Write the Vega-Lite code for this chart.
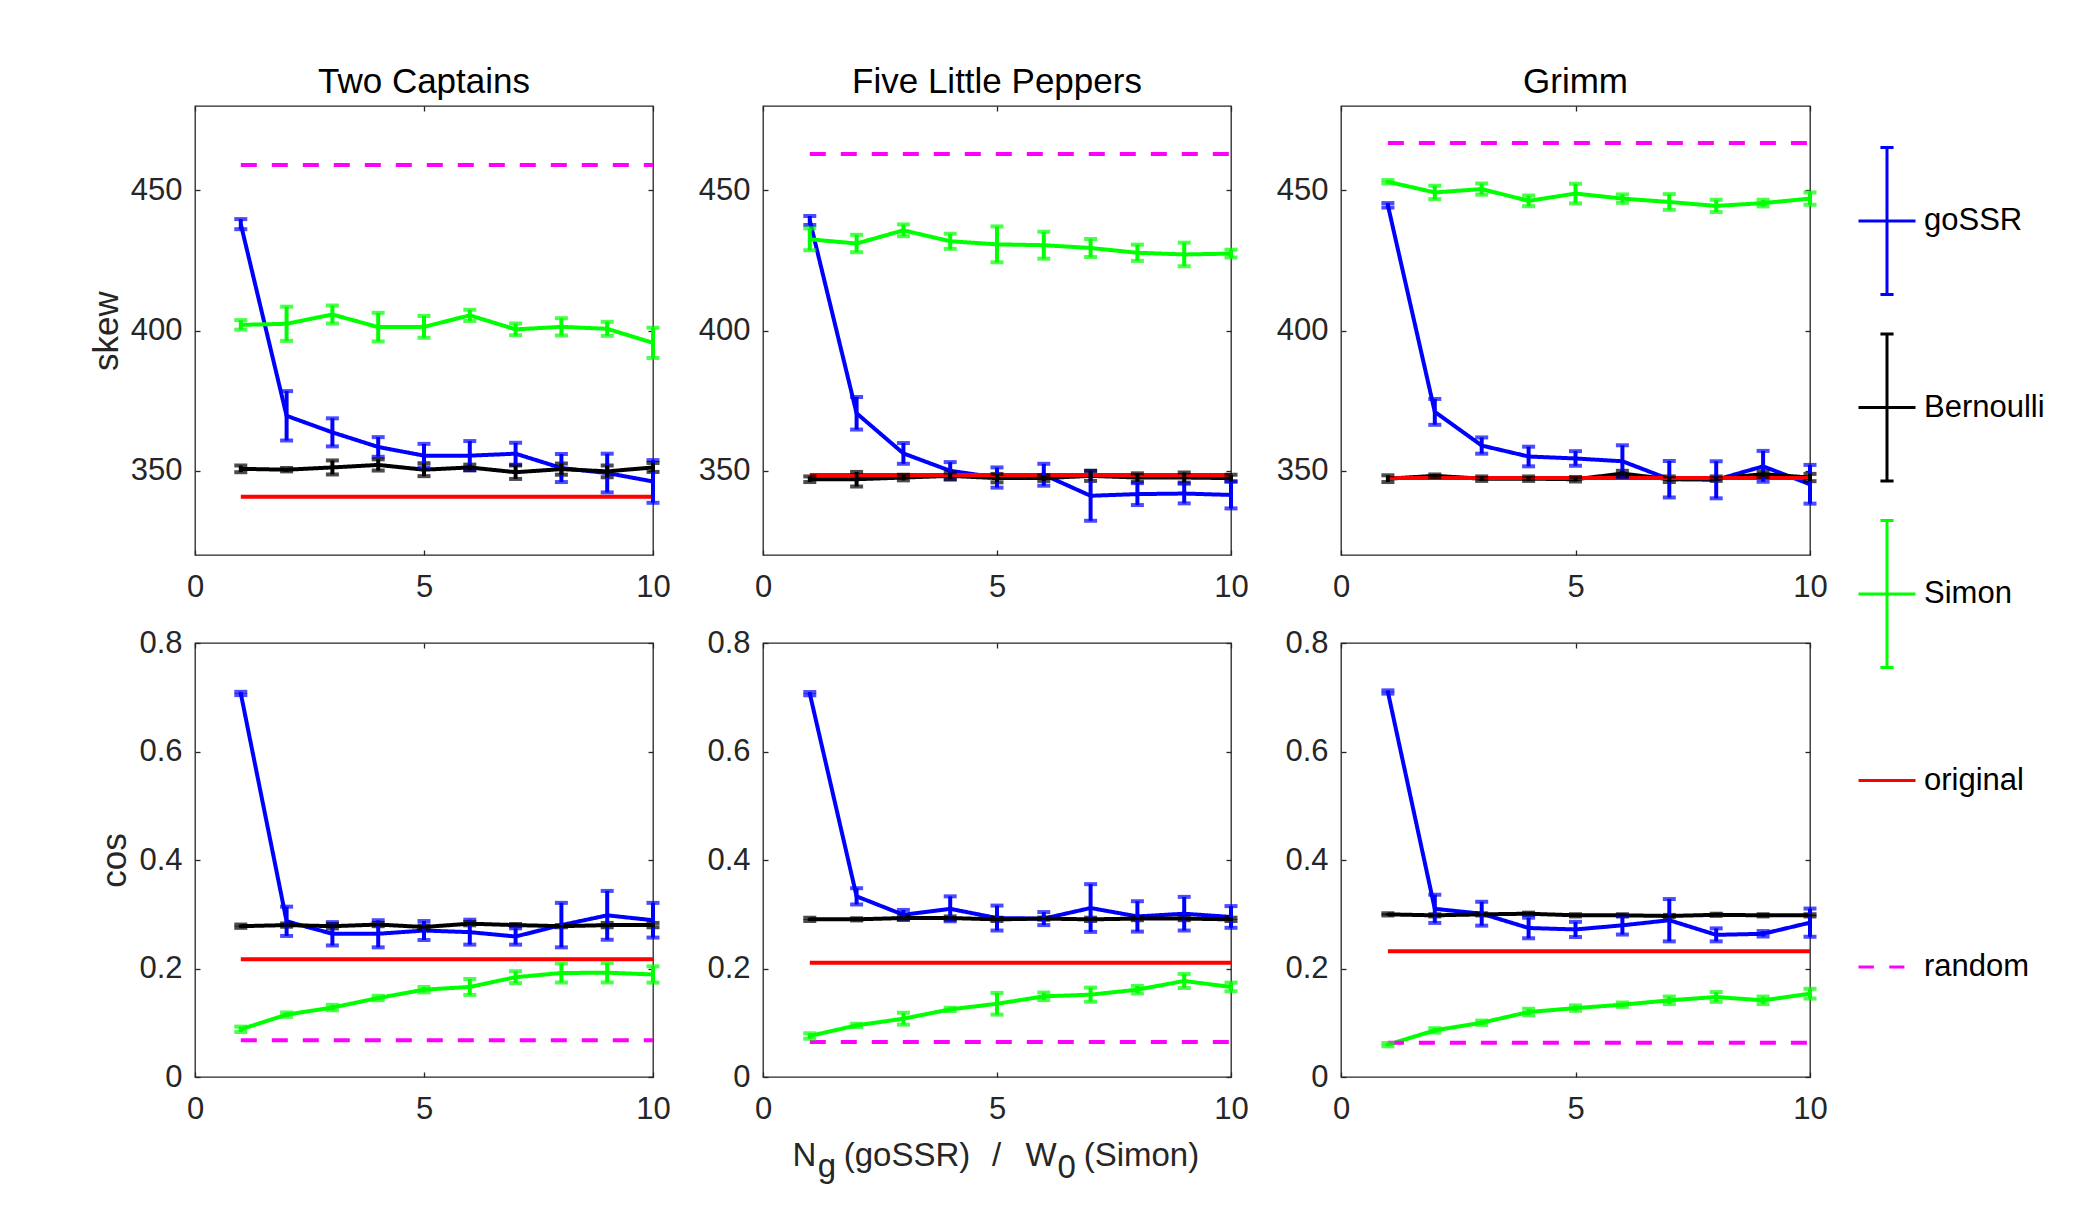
{
"$schema": "https://vega.github.io/schema/vega-lite/v6.json",
"autosize": {"type": "pad"},
"padding": {"left": 88, "top": 64, "right": 0, "bottom": 0},
"background": "white",
"config": {
  "font": "Liberation Sans",
  "view": {"stroke": "#262626", "strokeWidth": 1.3},
  "axis": {"grid": false, "domain": false, "ticks": true, "tickSize": -5, "tickColor": "#262626", "tickWidth": 1.3,
           "labelFont": "Liberation Sans", "labelFontSize": 31, "labelColor": "#262626", "labelFlush": false, "labelOverlap": false,
           "titleFont": "Liberation Sans", "titleFontSize": 35, "titleFontWeight": "normal", "titleColor": "#262626", "titlePadding": 6},
  "axisX": {"labelPadding": 22},
  "axisY": {"labelPadding": 18},
  "title": {"font": "Liberation Sans", "fontSize": 35, "fontWeight": "normal", "color": "#000000", "offset": 5, "baseline": "alphabetic", "frame": "group", "anchor": "middle"}
},
"datasets": {
"d": [
{"b":"Two Captains","m":"skew","s":"goSSR","n":1,"v":437.9,"e":1.8},
{"b":"Two Captains","m":"skew","s":"goSSR","n":2,"v":369.6,"e":8.8},
{"b":"Two Captains","m":"skew","s":"goSSR","n":3,"v":363.7,"e":5.0},
{"b":"Two Captains","m":"skew","s":"goSSR","n":4,"v":358.5,"e":3.5},
{"b":"Two Captains","m":"skew","s":"goSSR","n":5,"v":355.4,"e":4.2},
{"b":"Two Captains","m":"skew","s":"goSSR","n":6,"v":355.4,"e":5.2},
{"b":"Two Captains","m":"skew","s":"goSSR","n":7,"v":356.1,"e":3.9},
{"b":"Two Captains","m":"skew","s":"goSSR","n":8,"v":351.0,"e":5.0},
{"b":"Two Captains","m":"skew","s":"goSSR","n":9,"v":349.2,"e":6.9},
{"b":"Two Captains","m":"skew","s":"goSSR","n":10,"v":346.2,"e":7.6},
{"b":"Two Captains","m":"skew","s":"Bernoulli","n":1,"v":350.7,"e":1.2},
{"b":"Two Captains","m":"skew","s":"Bernoulli","n":2,"v":350.4,"e":0.6},
{"b":"Two Captains","m":"skew","s":"Bernoulli","n":3,"v":351.2,"e":2.5},
{"b":"Two Captains","m":"skew","s":"Bernoulli","n":4,"v":352.1,"e":2.0},
{"b":"Two Captains","m":"skew","s":"Bernoulli","n":5,"v":350.4,"e":2.3},
{"b":"Two Captains","m":"skew","s":"Bernoulli","n":6,"v":351.2,"e":1.0},
{"b":"Two Captains","m":"skew","s":"Bernoulli","n":7,"v":349.5,"e":2.4},
{"b":"Two Captains","m":"skew","s":"Bernoulli","n":8,"v":350.6,"e":2.0},
{"b":"Two Captains","m":"skew","s":"Bernoulli","n":9,"v":349.8,"e":2.1},
{"b":"Two Captains","m":"skew","s":"Bernoulli","n":10,"v":351.2,"e":1.6},
{"b":"Two Captains","m":"skew","s":"Simon","n":1,"v":402.0,"e":1.7},
{"b":"Two Captains","m":"skew","s":"Simon","n":2,"v":402.4,"e":6.1},
{"b":"Two Captains","m":"skew","s":"Simon","n":3,"v":405.7,"e":3.2},
{"b":"Two Captains","m":"skew","s":"Simon","n":4,"v":401.2,"e":5.1},
{"b":"Two Captains","m":"skew","s":"Simon","n":5,"v":401.3,"e":3.9},
{"b":"Two Captains","m":"skew","s":"Simon","n":6,"v":405.4,"e":2.0},
{"b":"Two Captains","m":"skew","s":"Simon","n":7,"v":400.4,"e":2.1},
{"b":"Two Captains","m":"skew","s":"Simon","n":8,"v":401.3,"e":3.1},
{"b":"Two Captains","m":"skew","s":"Simon","n":9,"v":400.6,"e":2.5},
{"b":"Two Captains","m":"skew","s":"Simon","n":10,"v":395.6,"e":5.4},
{"b":"Two Captains","m":"skew","s":"original","n":1,"v":340.8},
{"b":"Two Captains","m":"skew","s":"original","n":10,"v":340.8},
{"b":"Two Captains","m":"skew","s":"random","n":1,"v":459.0},
{"b":"Two Captains","m":"skew","s":"random","n":10,"v":459.0},
{"b":"Five Little Peppers","m":"skew","s":"goSSR","n":1,"v":439.2,"e":1.6},
{"b":"Five Little Peppers","m":"skew","s":"goSSR","n":2,"v":370.5,"e":5.8},
{"b":"Five Little Peppers","m":"skew","s":"goSSR","n":3,"v":356.2,"e":3.7},
{"b":"Five Little Peppers","m":"skew","s":"goSSR","n":4,"v":350.0,"e":3.1},
{"b":"Five Little Peppers","m":"skew","s":"goSSR","n":5,"v":347.6,"e":3.6},
{"b":"Five Little Peppers","m":"skew","s":"goSSR","n":6,"v":348.6,"e":3.9},
{"b":"Five Little Peppers","m":"skew","s":"goSSR","n":7,"v":341.1,"e":8.9},
{"b":"Five Little Peppers","m":"skew","s":"goSSR","n":8,"v":341.7,"e":3.9},
{"b":"Five Little Peppers","m":"skew","s":"goSSR","n":9,"v":341.9,"e":3.5},
{"b":"Five Little Peppers","m":"skew","s":"goSSR","n":10,"v":341.4,"e":4.8},
{"b":"Five Little Peppers","m":"skew","s":"Bernoulli","n":1,"v":347.0,"e":1.0},
{"b":"Five Little Peppers","m":"skew","s":"Bernoulli","n":2,"v":347.0,"e":2.6},
{"b":"Five Little Peppers","m":"skew","s":"Bernoulli","n":3,"v":347.6,"e":1.0},
{"b":"Five Little Peppers","m":"skew","s":"Bernoulli","n":4,"v":348.2,"e":1.2},
{"b":"Five Little Peppers","m":"skew","s":"Bernoulli","n":5,"v":347.4,"e":1.5},
{"b":"Five Little Peppers","m":"skew","s":"Bernoulli","n":6,"v":347.4,"e":1.0},
{"b":"Five Little Peppers","m":"skew","s":"Bernoulli","n":7,"v":348.2,"e":1.8},
{"b":"Five Little Peppers","m":"skew","s":"Bernoulli","n":8,"v":347.6,"e":1.5},
{"b":"Five Little Peppers","m":"skew","s":"Bernoulli","n":9,"v":347.6,"e":1.8},
{"b":"Five Little Peppers","m":"skew","s":"Bernoulli","n":10,"v":347.4,"e":1.2},
{"b":"Five Little Peppers","m":"skew","s":"Simon","n":1,"v":432.5,"e":3.9},
{"b":"Five Little Peppers","m":"skew","s":"Simon","n":2,"v":431.0,"e":3.1},
{"b":"Five Little Peppers","m":"skew","s":"Simon","n":3,"v":435.7,"e":2.1},
{"b":"Five Little Peppers","m":"skew","s":"Simon","n":4,"v":431.8,"e":2.7},
{"b":"Five Little Peppers","m":"skew","s":"Simon","n":5,"v":430.7,"e":6.4},
{"b":"Five Little Peppers","m":"skew","s":"Simon","n":6,"v":430.4,"e":4.8},
{"b":"Five Little Peppers","m":"skew","s":"Simon","n":7,"v":429.4,"e":3.2},
{"b":"Five Little Peppers","m":"skew","s":"Simon","n":8,"v":427.7,"e":2.9},
{"b":"Five Little Peppers","m":"skew","s":"Simon","n":9,"v":427.1,"e":4.2},
{"b":"Five Little Peppers","m":"skew","s":"Simon","n":10,"v":427.4,"e":1.4},
{"b":"Five Little Peppers","m":"skew","s":"original","n":1,"v":348.5},
{"b":"Five Little Peppers","m":"skew","s":"original","n":10,"v":348.5},
{"b":"Five Little Peppers","m":"skew","s":"random","n":1,"v":462.9},
{"b":"Five Little Peppers","m":"skew","s":"random","n":10,"v":462.9},
{"b":"Grimm","m":"skew","s":"goSSR","n":1,"v":444.6,"e":0.8},
{"b":"Grimm","m":"skew","s":"goSSR","n":2,"v":371.0,"e":4.6},
{"b":"Grimm","m":"skew","s":"goSSR","n":3,"v":359.0,"e":2.9},
{"b":"Grimm","m":"skew","s":"goSSR","n":4,"v":355.1,"e":3.5},
{"b":"Grimm","m":"skew","s":"goSSR","n":5,"v":354.4,"e":2.6},
{"b":"Grimm","m":"skew","s":"goSSR","n":6,"v":353.4,"e":5.7},
{"b":"Grimm","m":"skew","s":"goSSR","n":7,"v":347.0,"e":6.5},
{"b":"Grimm","m":"skew","s":"goSSR","n":8,"v":346.8,"e":6.6},
{"b":"Grimm","m":"skew","s":"goSSR","n":9,"v":351.6,"e":5.5},
{"b":"Grimm","m":"skew","s":"goSSR","n":10,"v":345.2,"e":6.9},
{"b":"Grimm","m":"skew","s":"Bernoulli","n":1,"v":347.2,"e":1.2},
{"b":"Grimm","m":"skew","s":"Bernoulli","n":2,"v":348.2,"e":0.5},
{"b":"Grimm","m":"skew","s":"Bernoulli","n":3,"v":347.2,"e":0.8},
{"b":"Grimm","m":"skew","s":"Bernoulli","n":4,"v":347.2,"e":0.8},
{"b":"Grimm","m":"skew","s":"Bernoulli","n":5,"v":347.0,"e":0.8},
{"b":"Grimm","m":"skew","s":"Bernoulli","n":6,"v":349.0,"e":1.0},
{"b":"Grimm","m":"skew","s":"Bernoulli","n":7,"v":347.0,"e":1.0},
{"b":"Grimm","m":"skew","s":"Bernoulli","n":8,"v":347.2,"e":0.8},
{"b":"Grimm","m":"skew","s":"Bernoulli","n":9,"v":348.8,"e":1.0},
{"b":"Grimm","m":"skew","s":"Bernoulli","n":10,"v":347.6,"e":1.3},
{"b":"Grimm","m":"skew","s":"Simon","n":1,"v":453.0,"e":0.6},
{"b":"Grimm","m":"skew","s":"Simon","n":2,"v":449.2,"e":2.4},
{"b":"Grimm","m":"skew","s":"Simon","n":3,"v":450.4,"e":2.0},
{"b":"Grimm","m":"skew","s":"Simon","n":4,"v":446.2,"e":1.9},
{"b":"Grimm","m":"skew","s":"Simon","n":5,"v":448.8,"e":3.5},
{"b":"Grimm","m":"skew","s":"Simon","n":6,"v":447.0,"e":1.5},
{"b":"Grimm","m":"skew","s":"Simon","n":7,"v":445.8,"e":2.8},
{"b":"Grimm","m":"skew","s":"Simon","n":8,"v":444.4,"e":2.2},
{"b":"Grimm","m":"skew","s":"Simon","n":9,"v":445.4,"e":1.2},
{"b":"Grimm","m":"skew","s":"Simon","n":10,"v":447.0,"e":2.2},
{"b":"Grimm","m":"skew","s":"original","n":1,"v":347.4},
{"b":"Grimm","m":"skew","s":"original","n":10,"v":347.4},
{"b":"Grimm","m":"skew","s":"random","n":1,"v":466.8},
{"b":"Grimm","m":"skew","s":"random","n":10,"v":466.8},
{"b":"Two Captains","m":"cos","s":"goSSR","n":1,"v":0.707,"e":0.003},
{"b":"Two Captains","m":"cos","s":"goSSR","n":2,"v":0.287,"e":0.027},
{"b":"Two Captains","m":"cos","s":"goSSR","n":3,"v":0.264,"e":0.0215},
{"b":"Two Captains","m":"cos","s":"goSSR","n":4,"v":0.264,"e":0.025},
{"b":"Two Captains","m":"cos","s":"goSSR","n":5,"v":0.270,"e":0.0175},
{"b":"Two Captains","m":"cos","s":"goSSR","n":6,"v":0.267,"e":0.023},
{"b":"Two Captains","m":"cos","s":"goSSR","n":7,"v":0.259,"e":0.015},
{"b":"Two Captains","m":"cos","s":"goSSR","n":8,"v":0.280,"e":0.041},
{"b":"Two Captains","m":"cos","s":"goSSR","n":9,"v":0.298,"e":0.045},
{"b":"Two Captains","m":"cos","s":"goSSR","n":10,"v":0.289,"e":0.032},
{"b":"Two Captains","m":"cos","s":"Bernoulli","n":1,"v":0.278,"e":0.003},
{"b":"Two Captains","m":"cos","s":"Bernoulli","n":2,"v":0.280,"e":0.003},
{"b":"Two Captains","m":"cos","s":"Bernoulli","n":3,"v":0.278,"e":0.004},
{"b":"Two Captains","m":"cos","s":"Bernoulli","n":4,"v":0.281,"e":0.003},
{"b":"Two Captains","m":"cos","s":"Bernoulli","n":5,"v":0.2765,"e":0.003},
{"b":"Two Captains","m":"cos","s":"Bernoulli","n":6,"v":0.2826,"e":0.003},
{"b":"Two Captains","m":"cos","s":"Bernoulli","n":7,"v":0.280,"e":0.002},
{"b":"Two Captains","m":"cos","s":"Bernoulli","n":8,"v":0.278,"e":0.002},
{"b":"Two Captains","m":"cos","s":"Bernoulli","n":9,"v":0.280,"e":0.004},
{"b":"Two Captains","m":"cos","s":"Bernoulli","n":10,"v":0.280,"e":0.004},
{"b":"Two Captains","m":"cos","s":"Simon","n":1,"v":0.0879,"e":0.005},
{"b":"Two Captains","m":"cos","s":"Simon","n":2,"v":0.115,"e":0.004},
{"b":"Two Captains","m":"cos","s":"Simon","n":3,"v":0.128,"e":0.005},
{"b":"Two Captains","m":"cos","s":"Simon","n":4,"v":0.1456,"e":0.004},
{"b":"Two Captains","m":"cos","s":"Simon","n":5,"v":0.161,"e":0.005},
{"b":"Two Captains","m":"cos","s":"Simon","n":6,"v":0.166,"e":0.0147},
{"b":"Two Captains","m":"cos","s":"Simon","n":7,"v":0.184,"e":0.011},
{"b":"Two Captains","m":"cos","s":"Simon","n":8,"v":0.1917,"e":0.0175},
{"b":"Two Captains","m":"cos","s":"Simon","n":9,"v":0.1923,"e":0.018},
{"b":"Two Captains","m":"cos","s":"Simon","n":10,"v":0.189,"e":0.015},
{"b":"Two Captains","m":"cos","s":"original","n":1,"v":0.217},
{"b":"Two Captains","m":"cos","s":"original","n":10,"v":0.217},
{"b":"Two Captains","m":"cos","s":"random","n":1,"v":0.0676},
{"b":"Two Captains","m":"cos","s":"random","n":10,"v":0.0676},
{"b":"Five Little Peppers","m":"cos","s":"goSSR","n":1,"v":0.7066,"e":0.003},
{"b":"Five Little Peppers","m":"cos","s":"goSSR","n":2,"v":0.333,"e":0.015},
{"b":"Five Little Peppers","m":"cos","s":"goSSR","n":3,"v":0.299,"e":0.009},
{"b":"Five Little Peppers","m":"cos","s":"goSSR","n":4,"v":0.310,"e":0.023},
{"b":"Five Little Peppers","m":"cos","s":"goSSR","n":5,"v":0.293,"e":0.023},
{"b":"Five Little Peppers","m":"cos","s":"goSSR","n":6,"v":0.292,"e":0.012},
{"b":"Five Little Peppers","m":"cos","s":"goSSR","n":7,"v":0.3115,"e":0.044},
{"b":"Five Little Peppers","m":"cos","s":"goSSR","n":8,"v":0.296,"e":0.028},
{"b":"Five Little Peppers","m":"cos","s":"goSSR","n":9,"v":0.301,"e":0.031},
{"b":"Five Little Peppers","m":"cos","s":"goSSR","n":10,"v":0.295,"e":0.020},
{"b":"Five Little Peppers","m":"cos","s":"Bernoulli","n":1,"v":0.2906,"e":0.003},
{"b":"Five Little Peppers","m":"cos","s":"Bernoulli","n":2,"v":0.2906,"e":0.002},
{"b":"Five Little Peppers","m":"cos","s":"Bernoulli","n":3,"v":0.293,"e":0.003},
{"b":"Five Little Peppers","m":"cos","s":"Bernoulli","n":4,"v":0.293,"e":0.003},
{"b":"Five Little Peppers","m":"cos","s":"Bernoulli","n":5,"v":0.2906,"e":0.003},
{"b":"Five Little Peppers","m":"cos","s":"Bernoulli","n":6,"v":0.292,"e":0.002},
{"b":"Five Little Peppers","m":"cos","s":"Bernoulli","n":7,"v":0.2906,"e":0.003},
{"b":"Five Little Peppers","m":"cos","s":"Bernoulli","n":8,"v":0.292,"e":0.003},
{"b":"Five Little Peppers","m":"cos","s":"Bernoulli","n":9,"v":0.292,"e":0.003},
{"b":"Five Little Peppers","m":"cos","s":"Bernoulli","n":10,"v":0.2906,"e":0.003},
{"b":"Five Little Peppers","m":"cos","s":"Simon","n":1,"v":0.0756,"e":0.005},
{"b":"Five Little Peppers","m":"cos","s":"Simon","n":2,"v":0.0952,"e":0.003},
{"b":"Five Little Peppers","m":"cos","s":"Simon","n":3,"v":0.1075,"e":0.011},
{"b":"Five Little Peppers","m":"cos","s":"Simon","n":4,"v":0.1247,"e":0.003},
{"b":"Five Little Peppers","m":"cos","s":"Simon","n":5,"v":0.135,"e":0.02},
{"b":"Five Little Peppers","m":"cos","s":"Simon","n":6,"v":0.1487,"e":0.007},
{"b":"Five Little Peppers","m":"cos","s":"Simon","n":7,"v":0.1518,"e":0.013},
{"b":"Five Little Peppers","m":"cos","s":"Simon","n":8,"v":0.161,"e":0.007},
{"b":"Five Little Peppers","m":"cos","s":"Simon","n":9,"v":0.177,"e":0.013},
{"b":"Five Little Peppers","m":"cos","s":"Simon","n":10,"v":0.166,"e":0.008},
{"b":"Five Little Peppers","m":"cos","s":"original","n":1,"v":0.2108},
{"b":"Five Little Peppers","m":"cos","s":"original","n":10,"v":0.2108},
{"b":"Five Little Peppers","m":"cos","s":"random","n":1,"v":0.0645},
{"b":"Five Little Peppers","m":"cos","s":"random","n":10,"v":0.0645},
{"b":"Grimm","m":"cos","s":"goSSR","n":1,"v":0.7097,"e":0.003},
{"b":"Grimm","m":"cos","s":"goSSR","n":2,"v":0.310,"e":0.026},
{"b":"Grimm","m":"cos","s":"goSSR","n":3,"v":0.301,"e":0.022},
{"b":"Grimm","m":"cos","s":"goSSR","n":4,"v":0.2747,"e":0.019},
{"b":"Grimm","m":"cos","s":"goSSR","n":5,"v":0.272,"e":0.014},
{"b":"Grimm","m":"cos","s":"goSSR","n":6,"v":0.2796,"e":0.017},
{"b":"Grimm","m":"cos","s":"goSSR","n":7,"v":0.289,"e":0.039},
{"b":"Grimm","m":"cos","s":"goSSR","n":8,"v":0.262,"e":0.012},
{"b":"Grimm","m":"cos","s":"goSSR","n":9,"v":0.264,"e":0.005},
{"b":"Grimm","m":"cos","s":"goSSR","n":10,"v":0.2845,"e":0.026},
{"b":"Grimm","m":"cos","s":"Bernoulli","n":1,"v":0.2998,"e":0.002},
{"b":"Grimm","m":"cos","s":"Bernoulli","n":2,"v":0.298,"e":0.002},
{"b":"Grimm","m":"cos","s":"Bernoulli","n":3,"v":0.2998,"e":0.002},
{"b":"Grimm","m":"cos","s":"Bernoulli","n":4,"v":0.301,"e":0.002},
{"b":"Grimm","m":"cos","s":"Bernoulli","n":5,"v":0.298,"e":0.002},
{"b":"Grimm","m":"cos","s":"Bernoulli","n":6,"v":0.298,"e":0.002},
{"b":"Grimm","m":"cos","s":"Bernoulli","n":7,"v":0.2968,"e":0.002},
{"b":"Grimm","m":"cos","s":"Bernoulli","n":8,"v":0.299,"e":0.002},
{"b":"Grimm","m":"cos","s":"Bernoulli","n":9,"v":0.298,"e":0.002},
{"b":"Grimm","m":"cos","s":"Bernoulli","n":10,"v":0.298,"e":0.002},
{"b":"Grimm","m":"cos","s":"Simon","n":1,"v":0.0596,"e":0.003},
{"b":"Grimm","m":"cos","s":"Simon","n":2,"v":0.086,"e":0.004},
{"b":"Grimm","m":"cos","s":"Simon","n":3,"v":0.100,"e":0.004},
{"b":"Grimm","m":"cos","s":"Simon","n":4,"v":0.1198,"e":0.006},
{"b":"Grimm","m":"cos","s":"Simon","n":5,"v":0.127,"e":0.005},
{"b":"Grimm","m":"cos","s":"Simon","n":6,"v":0.1333,"e":0.004},
{"b":"Grimm","m":"cos","s":"Simon","n":7,"v":0.1413,"e":0.007},
{"b":"Grimm","m":"cos","s":"Simon","n":8,"v":0.1475,"e":0.009},
{"b":"Grimm","m":"cos","s":"Simon","n":9,"v":0.1413,"e":0.007},
{"b":"Grimm","m":"cos","s":"Simon","n":10,"v":0.1536,"e":0.009},
{"b":"Grimm","m":"cos","s":"original","n":1,"v":0.2316},
{"b":"Grimm","m":"cos","s":"original","n":10,"v":0.2316},
{"b":"Grimm","m":"cos","s":"random","n":1,"v":0.0633},
{"b":"Grimm","m":"cos","s":"random","n":10,"v":0.0633}
]
},
"columns": 3,
"spacing": {"row": 88, "column": 110},
"bounds": "flush",
"concat": [
 {"width": 458, "height": 449, "title": "Two Captains",
  "data": {"name": "d"}, "transform": [{"filter": "datum.b === 'Two Captains' && datum.m === 'skew'"}],
  "layer": [
   {"mark": {"type": "line", "strokeWidth": 4},
    "encoding": {
     "x": {"field": "n", "type": "quantitative", "scale": {"domain": [0, 10], "nice": false}, "axis": {"orient": "bottom", "values": [0, 5, 10], "title": null}},
     "y": {"field": "v", "type": "quantitative", "scale": {"domain": [320, 480], "nice": false}, "axis": {"orient": "left", "values": [350, 400, 450], "title": "skew"}},
     "color": {"field": "s", "type": "nominal", "scale": {"domain": ["goSSR", "Bernoulli", "Simon", "original", "random"], "range": ["#0000ff", "#000000", "#00ff00", "#ff0000", "#ff00ff"]},
       "legend": {"orient": "none", "legendX": 1662, "legendY": 85, "title": null, "labelFont": "Liberation Sans", "labelFontSize": 31, "labelColor": "#000000", "labelOffset": 7,
         "symbolSize": 3249, "symbolStrokeWidth": 3, "rowPadding": 26.5, "padding": 0,
         "encode": {"symbols": {"update": {
           "shape": {"signal": "datum.value === 'original' ? 'M0,-2.58M0,2.58M-1,0H1' : datum.value === 'random' ? 'M0,-2.58M0,2.58M-1,0H-0.46M0.08,0H0.61' : 'M-1,0H1M0,-2.58V2.58M-0.23,-2.58H0.23M-0.23,2.58H0.23'"},
           "fill": {"value": "transparent"}}}}}},
     "strokeDash": {"field": "s", "type": "nominal", "scale": {"domain": ["goSSR", "Bernoulli", "Simon", "original", "random"], "range": [[1, 0], [1, 0], [1, 0], [1, 0], [16, 15]]}, "legend": null}
    }},
   {"transform": [{"filter": "isValid(datum.e)"}],
    "mark": {"type": "errorbar", "ticks": {"size": 13, "thickness": 4}, "rule": {"strokeWidth": 4}},
    "encoding": {
     "x": {"field": "n", "type": "quantitative", "scale": {"domain": [0, 10], "nice": false}, "axis": {"orient": "top", "values": [0, 5, 10], "labels": false, "title": null}},
     "y": {"field": "v", "type": "quantitative", "scale": {"domain": [320, 480], "nice": false}, "axis": {"orient": "right", "values": [350, 400, 450], "labels": false, "title": null}},
     "yError": {"field": "e"},
     "color": {"field": "s", "type": "nominal", "scale": {"domain": ["goSSR", "Bernoulli", "Simon", "original", "random"], "range": ["#0000ff", "#000000", "#00ff00", "#ff0000", "#ff00ff"]}}
    }}
  ],
  "resolve": {"axis": {"x": "independent", "y": "independent"}}
 },
 {"width": 468, "height": 449, "title": "Five Little Peppers",
  "data": {"name": "d"}, "transform": [{"filter": "datum.b === 'Five Little Peppers' && datum.m === 'skew'"}],
  "layer": [
   {"mark": {"type": "line", "strokeWidth": 4},
    "encoding": {
     "x": {"field": "n", "type": "quantitative", "scale": {"domain": [0, 10], "nice": false}, "axis": {"orient": "bottom", "values": [0, 5, 10], "title": null}},
     "y": {"field": "v", "type": "quantitative", "scale": {"domain": [320, 480], "nice": false}, "axis": {"orient": "left", "values": [350, 400, 450], "title": null}},
     "color": {"field": "s", "type": "nominal", "scale": {"domain": ["goSSR", "Bernoulli", "Simon", "original", "random"], "range": ["#0000ff", "#000000", "#00ff00", "#ff0000", "#ff00ff"]}},
     "strokeDash": {"field": "s", "type": "nominal", "scale": {"domain": ["goSSR", "Bernoulli", "Simon", "original", "random"], "range": [[1, 0], [1, 0], [1, 0], [1, 0], [16, 15]]}, "legend": null}
    }},
   {"transform": [{"filter": "isValid(datum.e)"}],
    "mark": {"type": "errorbar", "ticks": {"size": 13, "thickness": 4}, "rule": {"strokeWidth": 4}},
    "encoding": {
     "x": {"field": "n", "type": "quantitative", "scale": {"domain": [0, 10], "nice": false}, "axis": {"orient": "top", "values": [0, 5, 10], "labels": false, "title": null}},
     "y": {"field": "v", "type": "quantitative", "scale": {"domain": [320, 480], "nice": false}, "axis": {"orient": "right", "values": [350, 400, 450], "labels": false, "title": null}},
     "yError": {"field": "e"},
     "color": {"field": "s", "type": "nominal", "scale": {"domain": ["goSSR", "Bernoulli", "Simon", "original", "random"], "range": ["#0000ff", "#000000", "#00ff00", "#ff0000", "#ff00ff"]}}
    }}
  ],
  "resolve": {"axis": {"x": "independent", "y": "independent"}}
 },
 {"width": 469, "height": 449, "title": "Grimm",
  "data": {"name": "d"}, "transform": [{"filter": "datum.b === 'Grimm' && datum.m === 'skew'"}],
  "layer": [
   {"mark": {"type": "line", "strokeWidth": 4},
    "encoding": {
     "x": {"field": "n", "type": "quantitative", "scale": {"domain": [0, 10], "nice": false}, "axis": {"orient": "bottom", "values": [0, 5, 10], "title": null}},
     "y": {"field": "v", "type": "quantitative", "scale": {"domain": [320, 480], "nice": false}, "axis": {"orient": "left", "values": [350, 400, 450], "title": null}},
     "color": {"field": "s", "type": "nominal", "scale": {"domain": ["goSSR", "Bernoulli", "Simon", "original", "random"], "range": ["#0000ff", "#000000", "#00ff00", "#ff0000", "#ff00ff"]}},
     "strokeDash": {"field": "s", "type": "nominal", "scale": {"domain": ["goSSR", "Bernoulli", "Simon", "original", "random"], "range": [[1, 0], [1, 0], [1, 0], [1, 0], [16, 15]]}, "legend": null}
    }},
   {"transform": [{"filter": "isValid(datum.e)"}],
    "mark": {"type": "errorbar", "ticks": {"size": 13, "thickness": 4}, "rule": {"strokeWidth": 4}},
    "encoding": {
     "x": {"field": "n", "type": "quantitative", "scale": {"domain": [0, 10], "nice": false}, "axis": {"orient": "top", "values": [0, 5, 10], "labels": false, "title": null}},
     "y": {"field": "v", "type": "quantitative", "scale": {"domain": [320, 480], "nice": false}, "axis": {"orient": "right", "values": [350, 400, 450], "labels": false, "title": null}},
     "yError": {"field": "e"},
     "color": {"field": "s", "type": "nominal", "scale": {"domain": ["goSSR", "Bernoulli", "Simon", "original", "random"], "range": ["#0000ff", "#000000", "#00ff00", "#ff0000", "#ff00ff"]}}
    }}
  ],
  "resolve": {"axis": {"x": "independent", "y": "independent"}}
 },
 {"width": 458, "height": 434,
  "data": {"name": "d"}, "transform": [{"filter": "datum.b === 'Two Captains' && datum.m === 'cos'"}],
  "layer": [
   {"mark": {"type": "line", "strokeWidth": 4},
    "encoding": {
     "x": {"field": "n", "type": "quantitative", "scale": {"domain": [0, 10], "nice": false}, "axis": {"orient": "bottom", "values": [0, 5, 10], "title": null}},
     "y": {"field": "v", "type": "quantitative", "scale": {"domain": [0, 0.8], "nice": false}, "axis": {"orient": "left", "values": [0, 0.2, 0.4, 0.6, 0.8], "format": "~g", "title": "cos"}},
     "color": {"field": "s", "type": "nominal", "scale": {"domain": ["goSSR", "Bernoulli", "Simon", "original", "random"], "range": ["#0000ff", "#000000", "#00ff00", "#ff0000", "#ff00ff"]}},
     "strokeDash": {"field": "s", "type": "nominal", "scale": {"domain": ["goSSR", "Bernoulli", "Simon", "original", "random"], "range": [[1, 0], [1, 0], [1, 0], [1, 0], [16, 15]]}, "legend": null}
    }},
   {"transform": [{"filter": "isValid(datum.e)"}],
    "mark": {"type": "errorbar", "ticks": {"size": 13, "thickness": 4}, "rule": {"strokeWidth": 4}},
    "encoding": {
     "x": {"field": "n", "type": "quantitative", "scale": {"domain": [0, 10], "nice": false}, "axis": {"orient": "top", "values": [0, 5, 10], "labels": false, "title": null}},
     "y": {"field": "v", "type": "quantitative", "scale": {"domain": [0, 0.8], "nice": false}, "axis": {"orient": "right", "values": [0, 0.2, 0.4, 0.6, 0.8], "labels": false, "title": null}},
     "yError": {"field": "e"},
     "color": {"field": "s", "type": "nominal", "scale": {"domain": ["goSSR", "Bernoulli", "Simon", "original", "random"], "range": ["#0000ff", "#000000", "#00ff00", "#ff0000", "#ff00ff"]}}
    }}
  ],
  "resolve": {"axis": {"x": "independent", "y": "independent"}}
 },
 {"width": 468, "height": 434,
  "data": {"name": "d"}, "transform": [{"filter": "datum.b === 'Five Little Peppers' && datum.m === 'cos'"}],
  "layer": [
   {"mark": {"type": "line", "strokeWidth": 4},
    "encoding": {
     "x": {"field": "n", "type": "quantitative", "scale": {"domain": [0, 10], "nice": false}, "axis": {"orient": "bottom", "values": [0, 5, 10], "title": null}},
     "y": {"field": "v", "type": "quantitative", "scale": {"domain": [0, 0.8], "nice": false}, "axis": {"orient": "left", "values": [0, 0.2, 0.4, 0.6, 0.8], "format": "~g", "title": null}},
     "color": {"field": "s", "type": "nominal", "scale": {"domain": ["goSSR", "Bernoulli", "Simon", "original", "random"], "range": ["#0000ff", "#000000", "#00ff00", "#ff0000", "#ff00ff"]}},
     "strokeDash": {"field": "s", "type": "nominal", "scale": {"domain": ["goSSR", "Bernoulli", "Simon", "original", "random"], "range": [[1, 0], [1, 0], [1, 0], [1, 0], [16, 15]]}, "legend": null}
    }},
   {"transform": [{"filter": "isValid(datum.e)"}],
    "mark": {"type": "errorbar", "ticks": {"size": 13, "thickness": 4}, "rule": {"strokeWidth": 4}},
    "encoding": {
     "x": {"field": "n", "type": "quantitative", "scale": {"domain": [0, 10], "nice": false}, "axis": {"orient": "top", "values": [0, 5, 10], "labels": false, "title": null}},
     "y": {"field": "v", "type": "quantitative", "scale": {"domain": [0, 0.8], "nice": false}, "axis": {"orient": "right", "values": [0, 0.2, 0.4, 0.6, 0.8], "labels": false, "title": null}},
     "yError": {"field": "e"},
     "color": {"field": "s", "type": "nominal", "scale": {"domain": ["goSSR", "Bernoulli", "Simon", "original", "random"], "range": ["#0000ff", "#000000", "#00ff00", "#ff0000", "#ff00ff"]}}
    }},
   {"data": {"values": [{}]}, "mark": {"type": "text", "text": "N", "align": "left", "baseline": "alphabetic", "dy": 89, "fontSize": 33, "font": "Liberation Sans", "color": "#262626"},
    "encoding": {"x": {"datum": 0.63, "type": "quantitative", "scale": {"domain": [0, 10], "nice": false}, "axis": null}, "y": {"datum": 0, "type": "quantitative", "scale": {"domain": [0, 0.8], "nice": false}, "axis": null}}},
   {"data": {"values": [{}]}, "mark": {"type": "text", "text": "g", "align": "left", "baseline": "alphabetic", "dy": 100, "fontSize": 33, "font": "Liberation Sans", "color": "#262626"},
    "encoding": {"x": {"datum": 1.17, "type": "quantitative", "scale": {"domain": [0, 10], "nice": false}, "axis": null}, "y": {"datum": 0, "type": "quantitative", "scale": {"domain": [0, 0.8], "nice": false}, "axis": null}}},
   {"data": {"values": [{}]}, "mark": {"type": "text", "text": "(goSSR)", "align": "left", "baseline": "alphabetic", "dy": 89, "fontSize": 33, "font": "Liberation Sans", "color": "#262626"},
    "encoding": {"x": {"datum": 1.725, "type": "quantitative", "scale": {"domain": [0, 10], "nice": false}, "axis": null}, "y": {"datum": 0, "type": "quantitative", "scale": {"domain": [0, 0.8], "nice": false}, "axis": null}}},
   {"data": {"values": [{}]}, "mark": {"type": "text", "text": "/", "align": "left", "baseline": "alphabetic", "dy": 89, "fontSize": 33, "font": "Liberation Sans", "color": "#262626"},
    "encoding": {"x": {"datum": 4.893, "type": "quantitative", "scale": {"domain": [0, 10], "nice": false}, "axis": null}, "y": {"datum": 0, "type": "quantitative", "scale": {"domain": [0, 0.8], "nice": false}, "axis": null}}},
   {"data": {"values": [{}]}, "mark": {"type": "text", "text": "W", "align": "left", "baseline": "alphabetic", "dy": 89, "fontSize": 33, "font": "Liberation Sans", "color": "#262626"},
    "encoding": {"x": {"datum": 5.61, "type": "quantitative", "scale": {"domain": [0, 10], "nice": false}, "axis": null}, "y": {"datum": 0, "type": "quantitative", "scale": {"domain": [0, 0.8], "nice": false}, "axis": null}}},
   {"data": {"values": [{}]}, "mark": {"type": "text", "text": "0", "align": "left", "baseline": "alphabetic", "dy": 101, "fontSize": 33, "font": "Liberation Sans", "color": "#262626"},
    "encoding": {"x": {"datum": 6.295, "type": "quantitative", "scale": {"domain": [0, 10], "nice": false}, "axis": null}, "y": {"datum": 0, "type": "quantitative", "scale": {"domain": [0, 0.8], "nice": false}, "axis": null}}},
   {"data": {"values": [{}]}, "mark": {"type": "text", "text": "(Simon)", "align": "left", "baseline": "alphabetic", "dy": 89, "fontSize": 33, "font": "Liberation Sans", "color": "#262626"},
    "encoding": {"x": {"datum": 6.852, "type": "quantitative", "scale": {"domain": [0, 10], "nice": false}, "axis": null}, "y": {"datum": 0, "type": "quantitative", "scale": {"domain": [0, 0.8], "nice": false}, "axis": null}}}
  ],
  "resolve": {"axis": {"x": "independent", "y": "independent"}}
 },
 {"width": 469, "height": 434,
  "data": {"name": "d"}, "transform": [{"filter": "datum.b === 'Grimm' && datum.m === 'cos'"}],
  "layer": [
   {"mark": {"type": "line", "strokeWidth": 4},
    "encoding": {
     "x": {"field": "n", "type": "quantitative", "scale": {"domain": [0, 10], "nice": false}, "axis": {"orient": "bottom", "values": [0, 5, 10], "title": null}},
     "y": {"field": "v", "type": "quantitative", "scale": {"domain": [0, 0.8], "nice": false}, "axis": {"orient": "left", "values": [0, 0.2, 0.4, 0.6, 0.8], "format": "~g", "title": null}},
     "color": {"field": "s", "type": "nominal", "scale": {"domain": ["goSSR", "Bernoulli", "Simon", "original", "random"], "range": ["#0000ff", "#000000", "#00ff00", "#ff0000", "#ff00ff"]}},
     "strokeDash": {"field": "s", "type": "nominal", "scale": {"domain": ["goSSR", "Bernoulli", "Simon", "original", "random"], "range": [[1, 0], [1, 0], [1, 0], [1, 0], [16, 15]]}, "legend": null}
    }},
   {"transform": [{"filter": "isValid(datum.e)"}],
    "mark": {"type": "errorbar", "ticks": {"size": 13, "thickness": 4}, "rule": {"strokeWidth": 4}},
    "encoding": {
     "x": {"field": "n", "type": "quantitative", "scale": {"domain": [0, 10], "nice": false}, "axis": {"orient": "top", "values": [0, 5, 10], "labels": false, "title": null}},
     "y": {"field": "v", "type": "quantitative", "scale": {"domain": [0, 0.8], "nice": false}, "axis": {"orient": "right", "values": [0, 0.2, 0.4, 0.6, 0.8], "labels": false, "title": null}},
     "yError": {"field": "e"},
     "color": {"field": "s", "type": "nominal", "scale": {"domain": ["goSSR", "Bernoulli", "Simon", "original", "random"], "range": ["#0000ff", "#000000", "#00ff00", "#ff0000", "#ff00ff"]}}
    }}
  ],
  "resolve": {"axis": {"x": "independent", "y": "independent"}}
 }
]
}
